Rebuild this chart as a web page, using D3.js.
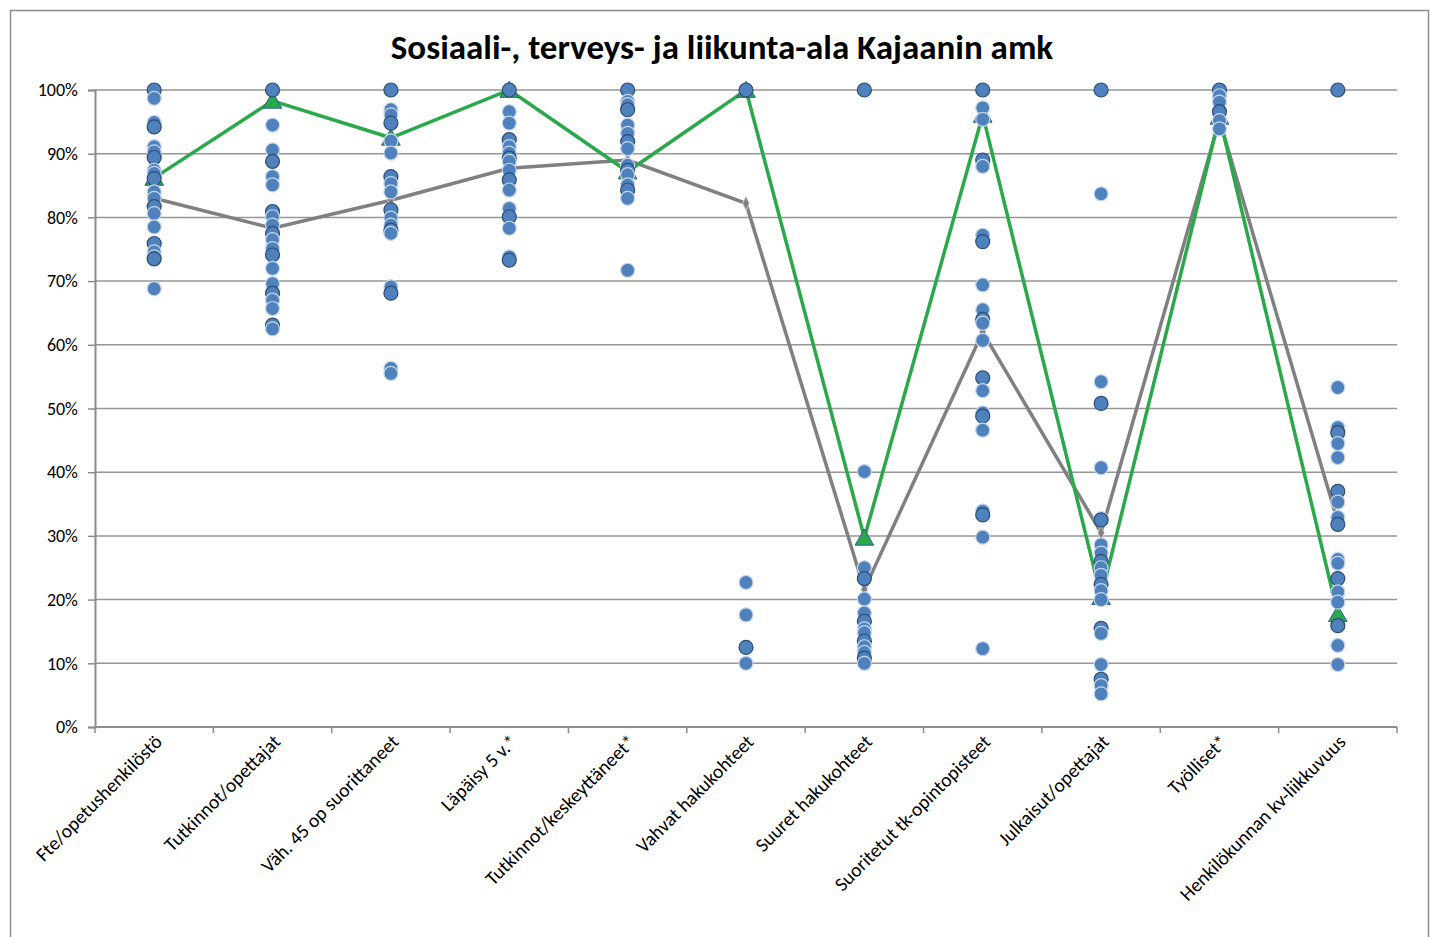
<!DOCTYPE html>
<html>
<head>
<meta charset="utf-8">
<script src="https://cdn.jsdelivr.net/npm/d3@7"></script>
<style>
  body { margin: 0; background: #fff; }
  text { font-family: Calibri, Carlito, "Open Sans", sans-serif; }
</style>
</head>
<body>
<div id="chart"></div>
<script>

// categories (x axis)
var categories = ["Fte/opetushenkilöstö", "Tutkinnot/opettajat", "Väh. 45 op suorittaneet", "Läpäisy 5 v.*",
	"Tutkinnot/keskeyttäneet*", "Vahvat hakukohteet", "Suuret hakukohteet", "Suoritetut tk-opintopisteet",
	"Julkaisut/opettajat", "Työlliset*", "Henkilökunnan kv-liikkuvuus"]

// all amk values per category (%)
var dotValues = [
	[100,98.7,94.9,94.2,91.1,90.3,89.4,87.4,86.9,86.1,84.0,83.0,81.7,80.6,78.5,75.9,74.6,73.8,73.5,68.8],
	[100,94.5,90.6,88.8,86.4,85.1,80.9,80.1,78.8,77.5,76.5,75.1,74.1,72.0,69.6,68.1,67.0,65.7,63.1,62.5],
	[100,96.9,96.1,94.8,92.0,90.1,86.4,85.3,84.0,81.2,79.9,78.8,78.0,77.5,69.1,68.1,56.3,55.5],
	[100,96.6,94.8,92.2,91.1,90.1,89.3,88.8,87.4,85.9,84.3,81.4,80.1,78.3,73.8,73.3],
	[100,98.2,97.7,96.9,94.5,93.2,91.9,90.8,88.2,87.4,86.7,85.1,84.3,83.0,71.7],
	[100,22.7,17.6,12.5,10.0],
	[100,40.1,25.0,23.3,20.1,17.9,16.6,15.4,14.8,13.5,12.6,11.7,10.8,10.0],
	[100,97.2,95.4,89.0,88.0,77.2,76.2,69.4,65.5,64.0,63.4,60.7,54.8,52.8,49.3,48.8,46.6,33.9,33.3,29.8,12.3],
	[100,83.7,54.2,50.8,40.7,32.7,32.5,28.6,27.3,26.0,25.0,23.8,22.4,21.4,20.0,15.5,14.7,9.8,7.5,6.5,5.2],
	[100,99.1,98.1,96.6,95.2,93.9],
	[100,53.3,47.0,46.2,44.5,42.3,37.0,35.3,32.9,31.8,26.3,25.7,23.3,21.2,19.6,15.9,12.8,9.8]
]

// Kajaanin amk (green) and average (gray)
var kajaani = [86.2, 98.3, 92.5, 100, 87.2, 100, 29.7, 96.1, 20.4, 95.8, 17.7]
var keskiarvo = [83.0, 78.3, 82.7, 87.7, 89.0, 82.2, 21.6, 62.0, 30.5, 95.3, 32.2]

var yTicks = [0, 10, 20, 30, 40, 50, 60, 70, 80, 90, 100]

var title = "Sosiaali-, terveys- ja liikunta-ala Kajaanin amk"

var width = 1430, height = 937
var margin = {top: 90, right: 33, bottom: 210, left: 95}

var svg = d3.select("#chart").append("svg")
	.attr("width", width)
	.attr("height", height)

// outer frame
svg.append("rect")
	.attr("x", 10.5).attr("y", 10.5)
	.attr("width", 1418).attr("height", 932)
	.attr("fill", "none")
	.attr("stroke", "#8c8c8c")
	.attr("stroke-width", 1.5)

svg.append("text")
	.attr("x", 722)
	.attr("y", 59)
	.attr("text-anchor", "middle")
	.attr("font-size", 35)
	.attr("font-weight", "bold")
	.text(title)

var x = d3.scaleBand()
	.domain(categories)
	.range([margin.left, width - margin.right])

var y = d3.scaleLinear()
	.domain([0, 100])
	.range([height - margin.bottom, margin.top])

var cx = d => x(d) + x.bandwidth() / 2

// gridlines
svg.append("g")
	.selectAll("line")
	.data(yTicks.filter(d => d > 0))
	.enter().append("line")
	.attr("x1", margin.left).attr("x2", width - margin.right)
	.attr("y1", d => y(d)).attr("y2", d => y(d))
	.attr("stroke", "#969696")
	.attr("stroke-width", 1.5)

// y axis
var yAxis = svg.append("g")
	.attr("transform", `translate(${margin.left},0)`)
	.call(d3.axisLeft(y).tickValues(yTicks).tickSize(7).tickPadding(10).tickFormat(d => d + "%"))
yAxis.select(".domain").attr("stroke", "#8c8c8c").attr("stroke-width", 2)
yAxis.selectAll(".tick line").attr("stroke", "#8c8c8c").attr("stroke-width", 1.5)
yAxis.selectAll(".tick text").attr("font-size", 18).attr("fill", "#000")
	.style("font-family", 'Calibri, Carlito, "Open Sans", sans-serif')

// x axis line and ticks between categories
var base = y(0)
svg.append("line")
	.attr("x1", margin.left).attr("x2", width - margin.right)
	.attr("y1", base).attr("y2", base)
	.attr("stroke", "#8c8c8c")
	.attr("stroke-width", 2)

var bounds = categories.map(d => x(d)).concat([width - margin.right])
svg.append("g")
	.selectAll("line")
	.data(bounds)
	.enter().append("line")
	.attr("x1", d => d).attr("x2", d => d)
	.attr("y1", base).attr("y2", base + 6)
	.attr("stroke", "#8c8c8c")
	.attr("stroke-width", 1.5)

svg.append("g")
	.selectAll("text")
	.data(categories)
	.enter().append("text")
	.attr("transform", d => `translate(${cx(d) + 9},${base + 16}) rotate(-45)`)
	.attr("text-anchor", "end")
	.attr("font-size", 19.5)
	.attr("fill", "#000")
	.text(d => d)

// lines
var line = d3.line()
	.x((d, i) => cx(categories[i]))
	.y(d => y(d))

svg.append("path")
	.datum(keskiarvo)
	.attr("d", line)
	.attr("fill", "none")
	.attr("stroke", "#808080")
	.attr("stroke-width", 3.5)

svg.append("path")
	.datum(kajaani)
	.attr("d", line)
	.attr("fill", "none")
	.attr("stroke", "#2aa84a")
	.attr("stroke-width", 3.5)

// markers
svg.append("g")
	.selectAll("path")
	.data(keskiarvo)
	.enter().append("path")
	.attr("d", d3.symbol(d3.symbolDiamond, 60))
	.attr("transform", (d, i) => `translate(${cx(categories[i])},${y(d)}) scale(0.8,1)`)
	.attr("fill", "#808080")
	.attr("stroke", "#d9d9d9")
	.attr("stroke-width", 1)

svg.append("g")
	.selectAll("path")
	.data(kajaani)
	.enter().append("path")
	.attr("d", d3.symbol(d3.symbolTriangle, 150))
	.attr("transform", (d, i) => `translate(${cx(categories[i])},${y(d) + 2})`)
	.attr("fill", "#2aa84a")
	.attr("stroke", "#2c5d9a")
	.attr("stroke-width", 1)

// all amk dots
var dots = []
dotValues.forEach(function(vals, i) {
	vals.forEach(function(v, j) {
		dots.push({cat: categories[i], value: v, j: j})
	})
})

svg.append("g")
	.selectAll("circle")
	.data(dots)
	.enter().append("circle")
	.attr("cx", d => cx(d.cat))
	.attr("cy", d => y(d.value))
	.attr("r", 7)
	.attr("fill", "#4f81bd")
	.attr("stroke", d => d.j % 3 == 0 ? "#2c4d75" : "#c6d6ea")
	.attr("stroke-width", 1.2)

</script>
</body>
</html>
